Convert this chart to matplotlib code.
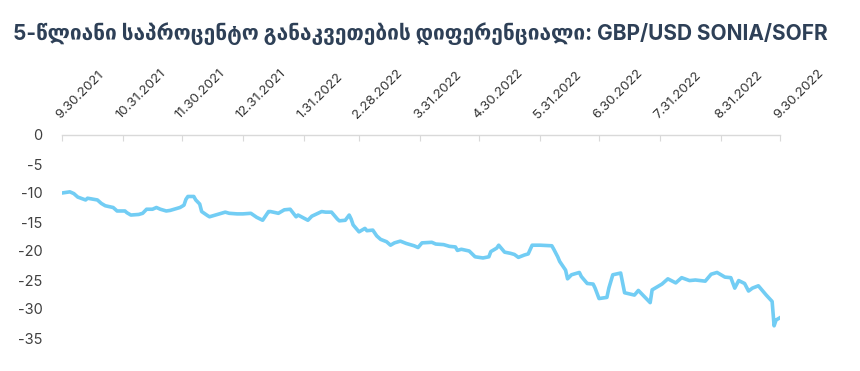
import pandas as pd
import matplotlib.pyplot as plt

plt.rcParams["axes.unicode_minus"] = False

# 5y rate differential, GBP SONIA vs USD SOFR (bp)
dates = [
    "2021-09-30", "2021-10-04", "2021-10-06", "2021-10-08", "2021-10-12", "2021-10-13",
    "2021-10-18", "2021-10-20", "2021-10-22", "2021-10-26", "2021-10-28", "2021-11-01",
    "2021-11-02", "2021-11-04", "2021-11-08", "2021-11-10", "2021-11-12", "2021-11-15",
    "2021-11-17", "2021-11-19", "2021-11-22", "2021-11-24", "2021-11-26", "2021-11-29",
    "2021-12-01", "2021-12-02", "2021-12-03", "2021-12-06", "2021-12-07", "2021-12-09",
    "2021-12-10", "2021-12-13", "2021-12-14", "2021-12-17", "2021-12-20", "2021-12-22",
    "2021-12-24", "2021-12-28", "2021-12-31", "2022-01-04", "2022-01-07", "2022-01-10",
    "2022-01-13", "2022-01-14", "2022-01-18", "2022-01-21", "2022-01-24", "2022-01-27",
    "2022-01-28", "2022-02-02", "2022-02-04", "2022-02-09", "2022-02-11", "2022-02-14",
    "2022-02-17", "2022-02-18", "2022-02-21", "2022-02-23", "2022-02-24", "2022-02-25",
    "2022-02-28", "2022-03-03", "2022-03-04", "2022-03-07", "2022-03-09", "2022-03-11",
    "2022-03-14", "2022-03-16", "2022-03-18", "2022-03-21", "2022-03-24", "2022-03-28",
    "2022-03-30", "2022-04-01", "2022-04-06", "2022-04-08", "2022-04-12", "2022-04-15",
    "2022-04-18", "2022-04-19", "2022-04-21", "2022-04-25", "2022-04-28", "2022-05-02",
    "2022-05-05", "2022-05-06", "2022-05-09", "2022-05-10", "2022-05-13", "2022-05-16",
    "2022-05-18", "2022-05-20", "2022-05-23", "2022-05-25", "2022-05-27", "2022-05-31",
    "2022-06-06", "2022-06-07", "2022-06-09", "2022-06-10", "2022-06-13", "2022-06-14",
    "2022-06-16", "2022-06-20", "2022-06-21", "2022-06-24", "2022-06-27", "2022-06-28",
    "2022-06-30", "2022-07-04", "2022-07-05", "2022-07-07", "2022-07-11", "2022-07-13",
    "2022-07-18", "2022-07-20", "2022-07-26", "2022-07-27", "2022-08-01", "2022-08-04",
    "2022-08-08", "2022-08-11", "2022-08-15", "2022-08-18", "2022-08-23", "2022-08-26",
    "2022-08-29", "2022-09-02", "2022-09-05", "2022-09-07", "2022-09-09", "2022-09-12",
    "2022-09-14", "2022-09-16", "2022-09-19", "2022-09-23", "2022-09-26", "2022-09-27",
    "2022-09-28", "2022-09-30",
]
values = [
    -10.0, -9.8, -10.1, -10.7, -11.2, -10.9,
    -11.2, -11.8, -12.2, -12.5, -13.1, -13.1,
    -13.4, -13.8, -13.7, -13.5, -12.8, -12.8,
    -12.5, -12.8, -13.1, -13.0, -12.8, -12.5,
    -12.1, -11.1, -10.6, -10.6, -11.2, -11.9,
    -13.2, -13.9, -14.1, -13.8, -13.5, -13.3,
    -13.5, -13.6, -13.6, -13.5, -14.2, -14.7,
    -13.2, -13.2, -13.5, -12.9, -12.8, -14.1,
    -13.8, -14.7, -14.0, -13.2, -13.3, -13.3,
    -14.5, -14.8, -14.7, -13.8, -14.5, -15.5,
    -16.7, -16.1, -16.5, -16.4, -17.4, -18.0,
    -18.4, -19.0, -18.6, -18.3, -18.7, -19.1,
    -19.4, -18.6, -18.5, -18.8, -18.9, -19.2,
    -19.3, -19.9, -19.7, -20.0, -21.0, -21.2,
    -21.0, -20.1, -19.5, -19.0, -20.2, -20.4,
    -20.6, -21.1, -20.7, -20.5, -19.0, -19.0,
    -19.1, -19.7, -21.0, -21.8, -23.3, -24.8,
    -24.1, -23.7, -24.4, -25.6, -25.7, -26.4,
    -28.2, -28.0, -26.4, -24.1, -23.8, -27.2,
    -27.6, -26.8, -28.9, -26.7, -25.7, -24.8,
    -25.5, -24.6, -25.1, -25.0, -25.2, -24.0,
    -23.7, -24.5, -24.6, -26.4, -25.1, -25.6,
    -26.9, -26.4, -26.0, -27.6, -28.7, -32.9,
    -31.9, -31.5,
]

tick_dates = ["2021-09-30", "2021-10-31", "2021-11-30", "2021-12-31", "2022-01-31",
              "2022-02-28", "2022-03-31", "2022-04-30", "2022-05-31", "2022-06-30",
              "2022-07-31", "2022-08-31", "2022-09-30"]
tick_labels = ["9.30.2021", "10.31.2021", "11.30.2021", "12.31.2021", "1.31.2022",
               "2.28.2022", "3.31.2022", "4.30.2022", "5.31.2022", "6.30.2022",
               "7.31.2022", "8.31.2022", "9.30.2022"]
y_ticks = [0, -5, -10, -15, -20, -25, -30, -35]

title = "5-წლიანი საპროცენტო განაკვეთების დიფერენციალი: GBP/USD SONIA/SOFR"

x = pd.to_datetime(dates)
xt = pd.to_datetime(tick_dates)

fig = plt.figure(figsize=(8.6, 3.71), dpi=100)
ax = fig.add_axes([62 / 860, 1 - 338 / 371, 718 / 860, 203 / 371])

ax.plot(x, values, color="#72cdf4", linewidth=2.6, solid_joinstyle="round")

ax.set_xlim(xt[0], xt[-1])
ax.set_ylim(-35, 0)

for side in ["left", "right", "bottom"]:
    ax.spines[side].set_visible(False)
ax.spines["top"].set_color("#d9d9d9")
ax.spines["top"].set_linewidth(1.0)

ax.xaxis.tick_top()
ax.set_xticks(xt)
ax.set_xticklabels(tick_labels, rotation=45, ha="left", va="bottom",
                   rotation_mode="anchor")
ax.tick_params(axis="x", direction="in", length=4, color="#d9d9d9",
               labelsize=9.5, labelcolor="#333333", pad=10)
ax.set_yticks(y_ticks)
ax.tick_params(axis="y", length=0, labelsize=10.5, labelcolor="#404040", pad=14)
for lab in ax.get_xticklabels() + ax.get_yticklabels():
    lab.set_family(["Inter", "DejaVu Sans"])

fig.text(13 / 860, 1 - 34 / 371, title, fontsize=15, fontweight="bold",
         color="#2e4057", family=["Inter", "DejaVu Sans"], va="center")

fig.savefig("out.png", dpi=100)
